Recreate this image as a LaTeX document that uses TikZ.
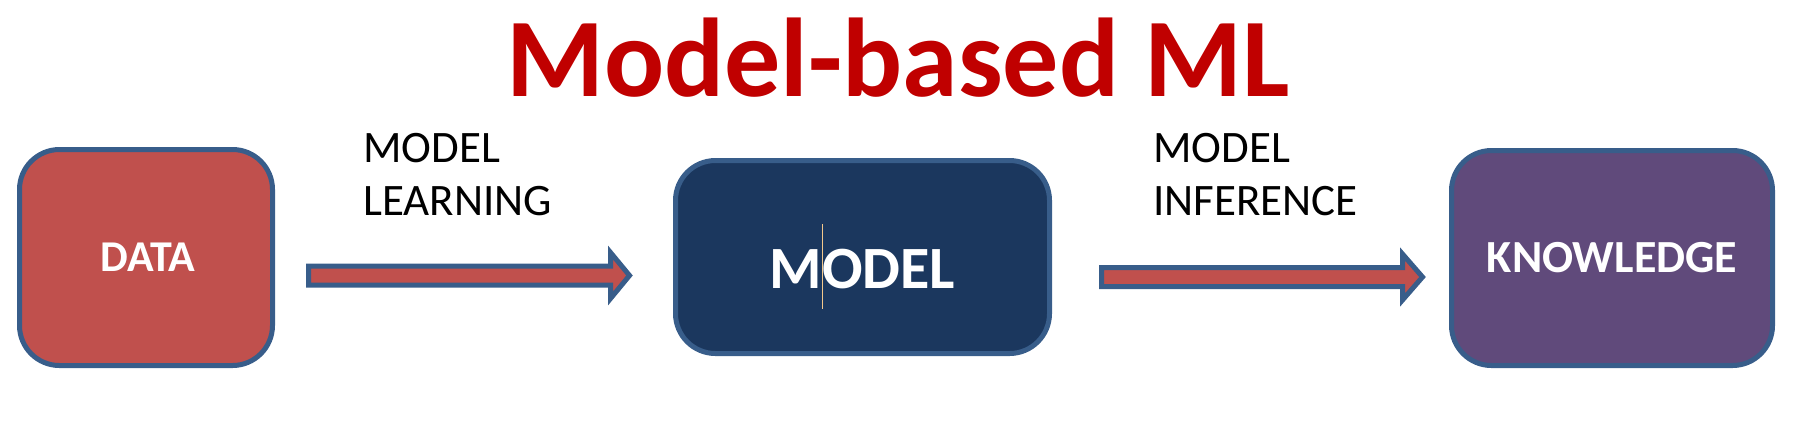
\documentclass[tikz,border=0pt]{standalone}
\usepackage{fontspec}
\setmainfont{Carlito}
\usetikzlibrary{positioning}

\definecolor{titlered}{HTML}{C00000}
\definecolor{datared}{HTML}{C0504D}
\definecolor{modelblue}{HTML}{1B375E}
\definecolor{knowpurple}{HTML}{604A7B}
\definecolor{edgeblue}{HTML}{385D8A}
\definecolor{cursorpale}{HTML}{F3C88C}

\begin{document}
\begin{tikzpicture}[x=0.5pt, y=-0.5pt,
  box/.style={draw=edgeblue, line width=2.5pt, rounded corners=20pt, text=white, inner sep=0pt},
  boxtext/.style={text=white, inner sep=0pt, font=\bfseries\fontsize{#1}{#1}\selectfont},
  blockarrow/.style={draw=edgeblue, line width=2.5pt, fill=datared, line join=miter},
  steplabel/.style={anchor=north west, inner sep=0pt, align=left, font=\fontsize{22.5}{26.5}\selectfont}]
  \useasboundingbox (0,0) rectangle (1813,447);

  % Title
  \node[anchor=base, inner sep=0pt, text=titlered, font=\bfseries\fontsize{56}{60}\selectfont] (title) at (898,96) {Model-based ML};

  % Boxes
  \node[box, fill=datared, minimum width=126.5pt, minimum height=108pt] (data) at (146,257.5) {};
  \node[boxtext=22] (datatext) at ([xshift=1pt]data.center) {DATA};

  \node[box, fill=modelblue, minimum width=187pt, minimum height=96.5pt] (model) at (862.5,257) {};
  \node[boxtext=30] (modeltext) at ([yshift=-6pt]model.center) {MODEL};
  \draw[cursorpale, line width=0.5pt] (822,224) -- (822,309);

  \node[box, fill=knowpurple, minimum width=160.5pt, minimum height=107.5pt] (know) at (1612,258) {};
  \node[boxtext=23] (knowtext) at (know.center) {KNOWLEDGE};

  % Arrows
  \coordinate (learn) at (308.5,275.5);
  \draw[blockarrow] (learn) ++(0,-9.5) -- ++(302,0) -- ++(0,-13.5) -- ++(19,23)
    -- ++(-19,23) -- ++(0,-13.5) -- ++(-302,0) -- cycle;
  \coordinate (infer) at (1101.5,277);
  \draw[blockarrow] (infer) ++(0,-9.5) -- ++(301,0) -- ++(0,-13.5) -- ++(20,23)
    -- ++(-20,23) -- ++(0,-13.5) -- ++(-301,0) -- cycle;

  % Labels
  \node[steplabel] (learnlabel) at (363,133) {MODEL\\LEARNING};
  \node[steplabel] (inferlabel) at (1153,133) {MODEL\\INFERENCE};
\end{tikzpicture}
\end{document}
